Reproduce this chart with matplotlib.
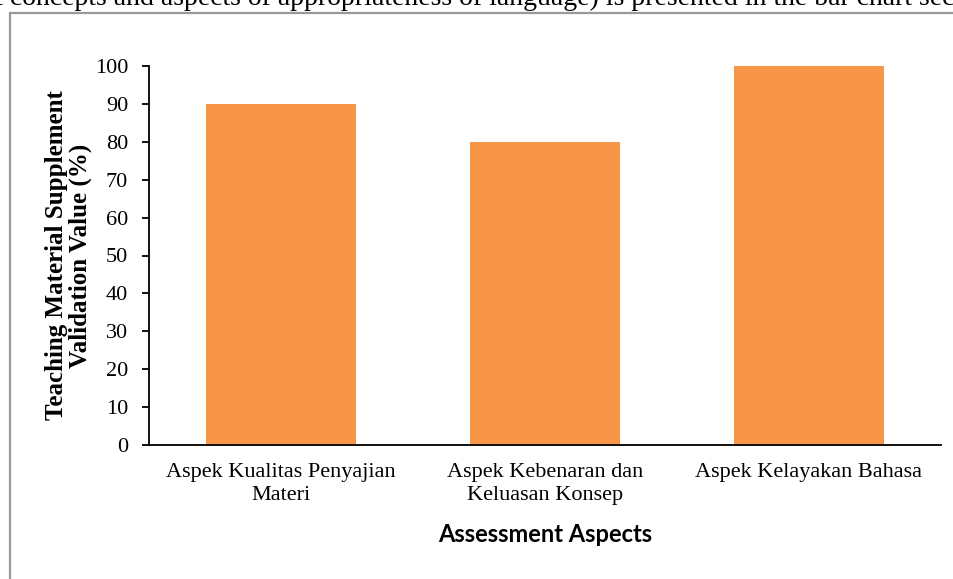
import matplotlib.pyplot as plt
from matplotlib.patches import Rectangle

categories = ["Aspek Kualitas Penyajian\nMateri",
              "Aspek Kebenaran dan\nKeluasan Konsep",
              "Aspek Kelayakan Bahasa"]
values = [90, 80, 100]
y_ticks = [0, 10, 20, 30, 40, 50, 60, 70, 80, 90, 100]

fig = plt.figure(figsize=(9.54, 5.79), dpi=100)

# document text above the chart frame (cut off at the top)
fig.text(4 / 954, 1 - 5 / 579, "of", fontsize=20, family="Liberation Serif",
         va="baseline", ha="right")
fig.text(10 / 954, 1 - 5 / 579,
         "concepts and aspects of appropriateness of language) is presented in the bar chart section",
         fontsize=20, family="Liberation Serif", va="baseline", ha="left")

# grey frame around the chart
fig.patches.append(Rectangle((10 / 954, -0.05), 1.0, 1 - 13 / 579 + 0.05,
                             transform=fig.transFigure, fill=False,
                             edgecolor="#999999", linewidth=1.6))

ax = fig.add_axes([149 / 954, 1 - 445 / 579, (941 - 149) / 954, (445 - 66) / 579])
x = range(len(categories))
ax.bar(x, values, width=0.567, color="#F79646")

ax.set_xlim(-0.5, 2.5)
ax.set_ylim(0, 100)
ax.set_yticks(y_ticks)
ax.set_yticklabels([str(t) for t in y_ticks], family="Liberation Serif", fontsize=16)
ax.set_xticks(list(x))
ax.set_xticklabels(categories, family="Liberation Serif", fontsize=16, linespacing=1.25)
ax.tick_params(axis="x", length=0, pad=13)
ax.tick_params(axis="y", length=5, width=1.3, direction="out", pad=10)

for s in ["top", "right"]:
    ax.spines[s].set_visible(False)
ax.spines["left"].set_linewidth(1.3)
ax.spines["bottom"].set_linewidth(1.3)

ax.set_ylabel("Teaching Material Supplement\nValidation Value (%)", family="Liberation Serif",
              fontweight="bold", fontsize=18, linespacing=1.02, labelpad=2)
ax.set_xlabel("Assessment Aspects", family="Lato", fontweight="bold", fontsize=17, labelpad=13)

fig.savefig("out.png", dpi=100)
